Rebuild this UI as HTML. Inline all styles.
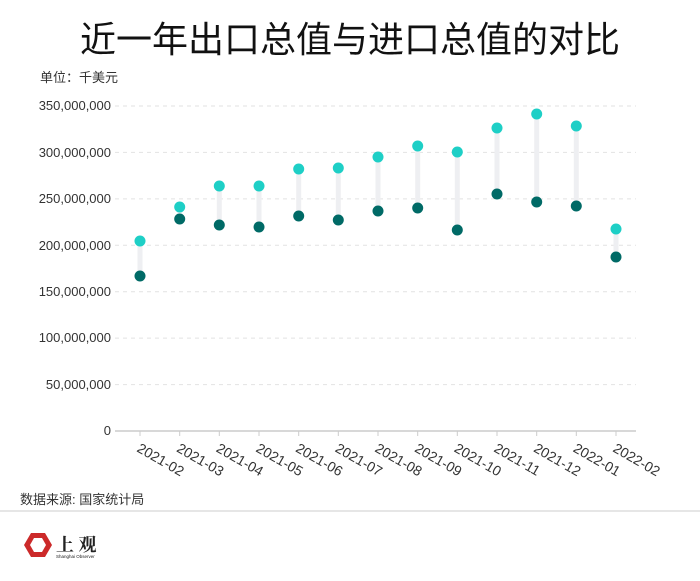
<!DOCTYPE html>
<html><head><meta charset="utf-8"><style>
body{margin:0;background:#fff;width:700px;height:576px;overflow:hidden;font-family:"Liberation Sans","Noto Sans CJK SC",sans-serif}
</style></head><body>
<svg width="700" height="576" xmlns="http://www.w3.org/2000/svg" font-family="Liberation Sans, Noto Sans CJK SC, sans-serif">
<text x="350" y="52" text-anchor="middle" font-size="36" fill="#111">近一年出口总值与进口总值的对比</text>
<text x="40" y="82" font-size="13" fill="#333">单位：千美元</text>
<g stroke="#e2e2e2" stroke-dasharray="4,4" stroke-width="1">
<line x1="115" x2="636" y1="106" y2="106"/><line x1="115" x2="636" y1="152.4" y2="152.4"/>
<line x1="115" x2="636" y1="198.9" y2="198.9"/><line x1="115" x2="636" y1="245.3" y2="245.3"/>
<line x1="115" x2="636" y1="291.7" y2="291.7"/><line x1="115" x2="636" y1="338.1" y2="338.1"/>
<line x1="115" x2="636" y1="384.6" y2="384.6"/>
</g>
<line x1="115" x2="636" y1="431" y2="431" stroke="#ccc" stroke-width="1.5"/>
<g font-size="13" fill="#333" text-anchor="end">
<text x="111" y="110">350,000,000</text><text x="111" y="157">300,000,000</text>
<text x="111" y="203">250,000,000</text><text x="111" y="250">200,000,000</text>
<text x="111" y="296">150,000,000</text><text x="111" y="342">100,000,000</text>
<text x="111" y="389">50,000,000</text><text x="111" y="435">0</text>
</g>
<g stroke="#ccc">
<line x1="140" x2="140" y1="431" y2="436"/><line x1="179.7" x2="179.7" y1="431" y2="436"/><line x1="219.3" x2="219.3" y1="431" y2="436"/><line x1="259" x2="259" y1="431" y2="436"/><line x1="298.7" x2="298.7" y1="431" y2="436"/><line x1="338.3" x2="338.3" y1="431" y2="436"/><line x1="378" x2="378" y1="431" y2="436"/><line x1="417.7" x2="417.7" y1="431" y2="436"/><line x1="457.3" x2="457.3" y1="431" y2="436"/><line x1="497" x2="497" y1="431" y2="436"/><line x1="536.7" x2="536.7" y1="431" y2="436"/><line x1="576.3" x2="576.3" y1="431" y2="436"/><line x1="616" x2="616" y1="431" y2="436"/>
</g>
<g stroke="#eeeff2" stroke-width="5">
<line x1="140" x2="140" y1="241" y2="276"/><line x1="179.7" x2="179.7" y1="207" y2="219"/><line x1="219.3" x2="219.3" y1="186" y2="225"/><line x1="259" x2="259" y1="186" y2="227"/><line x1="298.7" x2="298.7" y1="169" y2="216"/><line x1="338.3" x2="338.3" y1="168" y2="220"/><line x1="378" x2="378" y1="157" y2="211"/><line x1="417.7" x2="417.7" y1="146" y2="208"/><line x1="457.3" x2="457.3" y1="152" y2="230"/><line x1="497" x2="497" y1="128" y2="194"/><line x1="536.7" x2="536.7" y1="114" y2="202"/><line x1="576.3" x2="576.3" y1="126" y2="206"/><line x1="616" x2="616" y1="229" y2="257"/>
</g>
<g fill="#1ecfc6">
<circle cx="140" cy="241" r="5.5"/><circle cx="179.7" cy="207" r="5.5"/><circle cx="219.3" cy="186" r="5.5"/><circle cx="259" cy="186" r="5.5"/><circle cx="298.7" cy="169" r="5.5"/><circle cx="338.3" cy="168" r="5.5"/><circle cx="378" cy="157" r="5.5"/><circle cx="417.7" cy="146" r="5.5"/><circle cx="457.3" cy="152" r="5.5"/><circle cx="497" cy="128" r="5.5"/><circle cx="536.7" cy="114" r="5.5"/><circle cx="576.3" cy="126" r="5.5"/><circle cx="616" cy="229" r="5.5"/>
</g>
<g fill="#006a66">
<circle cx="140" cy="276" r="5.5"/><circle cx="179.7" cy="219" r="5.5"/><circle cx="219.3" cy="225" r="5.5"/><circle cx="259" cy="227" r="5.5"/><circle cx="298.7" cy="216" r="5.5"/><circle cx="338.3" cy="220" r="5.5"/><circle cx="378" cy="211" r="5.5"/><circle cx="417.7" cy="208" r="5.5"/><circle cx="457.3" cy="230" r="5.5"/><circle cx="497" cy="194" r="5.5"/><circle cx="536.7" cy="202" r="5.5"/><circle cx="576.3" cy="206" r="5.5"/><circle cx="616" cy="257" r="5.5"/>
</g>
<g font-size="14" fill="#333">
<text x="136" y="451" transform="rotate(30 136 451)">2021-02</text>
<text x="175.7" y="451" transform="rotate(30 175.7 451)">2021-03</text>
<text x="215.3" y="451" transform="rotate(30 215.3 451)">2021-04</text>
<text x="255" y="451" transform="rotate(30 255 451)">2021-05</text>
<text x="294.7" y="451" transform="rotate(30 294.7 451)">2021-06</text>
<text x="334.3" y="451" transform="rotate(30 334.3 451)">2021-07</text>
<text x="374" y="451" transform="rotate(30 374 451)">2021-08</text>
<text x="413.7" y="451" transform="rotate(30 413.7 451)">2021-09</text>
<text x="453.3" y="451" transform="rotate(30 453.3 451)">2021-10</text>
<text x="493" y="451" transform="rotate(30 493 451)">2021-11</text>
<text x="532.7" y="451" transform="rotate(30 532.7 451)">2021-12</text>
<text x="572.3" y="451" transform="rotate(30 572.3 451)">2022-01</text>
<text x="612" y="451" transform="rotate(30 612 451)">2022-02</text>
</g>
<line x1="0" x2="700" y1="511" y2="511" stroke="#ddd" stroke-width="1.5"/>
<text x="20" y="504" font-size="13" fill="#333">数据来源: 国家统计局</text>
<polygon points="31,533 45,533 52,545 45,557 31,557 24,545" fill="#cc2a2a"/>
<polygon points="34,538 42,538 46,545 42,552 34,552 30,545" fill="#fff"/>
<text x="56" y="551" font-size="18" font-weight="bold" fill="#222" font-family="Noto Serif CJK SC, serif">上 观</text>
<text x="56" y="558" font-size="4.5" fill="#222">Shanghai Observer</text>
</svg>
</body></html>
